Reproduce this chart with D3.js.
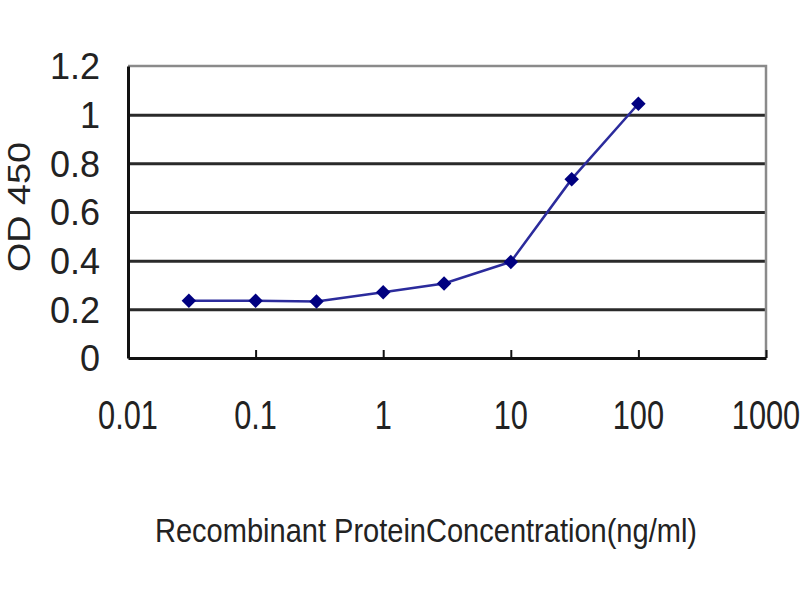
<!DOCTYPE html>
<html>
<head>
<meta charset="utf-8">
<script src="https://cdn.jsdelivr.net/npm/d3@7"></script>
<style>
  body { margin: 0; background: #fff; }
  svg { display: block; font-family: "Liberation Sans", Arial, sans-serif; }
</style>
</head>
<body>
<svg width="800" height="600"></svg>
<script>
// concentration (ng/ml) and OD 450 readings
var conc = [0.03, 0.1, 0.3, 1, 3, 10, 30, 100];
var od = [0.235, 0.235, 0.232, 0.27, 0.306, 0.395, 0.735, 1.045];
var xTicks = [0.01, 0.1, 1, 10, 100, 1000];
var xTickLabels = ["0.01", "0.1", "1", "10", "100", "1000"];
var yTicks = [0, 0.2, 0.4, 0.6, 0.8, 1, 1.2];
var yTickLabels = ["0", "0.2", "0.4", "0.6", "0.8", "1", "1.2"];

var svg = d3.select("svg"),
    margin = {top: 66, right: 34, bottom: 242, left: 128},
    width = +svg.attr("width") - margin.left - margin.right,
    height = +svg.attr("height") - margin.top - margin.bottom,
    g = svg.append("g").attr("transform", "translate(" + margin.left + "," + margin.top + ")");

var x = d3.scaleLog()
    .domain([0.01, 1000])
    .range([0, width]);

var y = d3.scaleLinear()
    .domain([0, 1.2])
    .range([height, 0]);

// horizontal gridlines
g.append("g")
    .attr("class", "grid")
    .call(d3.axisLeft(y)
        .tickValues(yTicks.filter(function(d) { return d > 0 && d < 1.2; }))
        .tickSize(-width)
        .tickFormat(""))
  .call(function(s) {
    s.select(".domain").remove();
    s.selectAll("line").attr("stroke", "#2a2a2a").attr("stroke-width", 3);
  });

// plot border (top / right in grey)
g.append("path")
    .attr("d", "M0,0H" + width + "V" + height)
    .attr("fill", "none")
    .attr("stroke", "#8a8a8a")
    .attr("stroke-width", 2.5);

// y axis
var yAxis = g.append("g")
    .call(d3.axisLeft(y)
        .tickValues(yTicks)
        .tickSize(0)
        .tickPadding(28)
        .tickFormat(function(d, i) { return yTickLabels[i]; }));
yAxis.select(".domain").attr("stroke", "#111").attr("stroke-width", 3);
yAxis.selectAll("text")
    .attr("font-size", 36)
    .attr("font-family", "Liberation Sans, Arial, sans-serif")
    .attr("fill", "#222")
    .attr("dy", "0.36em");

// x axis with inside ticks
var xAxis = g.append("g")
    .attr("transform", "translate(0," + height + ")")
    .call(d3.axisTop(x)
        .tickValues(xTicks)
        .tickSize(8)
        .tickSizeOuter(0)
        .tickFormat(""));
xAxis.select(".domain").attr("stroke", "#111").attr("stroke-width", 3);
xAxis.selectAll("line").attr("stroke", "#111").attr("stroke-width", 2);

var xLab = g.append("g")
    .attr("transform", "translate(0," + height + ")");
xLab.selectAll("text")
    .data(xTicks)
  .enter().append("text")
    .attr("transform", function(d) { return "translate(" + x(d) + ",71) scale(0.75,1)"; })
    .attr("text-anchor", "middle")
    .attr("font-size", 41)
    .attr("fill", "#222")
    .text(function(d, i) { return xTickLabels[i]; });

// series line
var line = d3.line()
    .x(function(d, i) { return x(conc[i]); })
    .y(function(d) { return y(d); });

g.append("path")
    .datum(od)
    .attr("d", line)
    .attr("fill", "none")
    .attr("stroke", "#2b2b9c")
    .attr("stroke-width", 2.5);

// diamond markers
g.selectAll(".pt")
    .data(od)
  .enter().append("path")
    .attr("class", "pt")
    .attr("d", d3.symbol().type(d3.symbolSquare).size(105))
    .attr("transform", function(d, i) { return "translate(" + x(conc[i]) + "," + y(d) + ") rotate(45)"; })
    .attr("fill", "#000080");

// axis titles
svg.append("text")
    .attr("transform", "translate(30,207) rotate(-90)")
    .attr("text-anchor", "middle")
    .attr("font-size", 32)
    .attr("fill", "#222")
    .attr("textLength", 130)
    .attr("lengthAdjust", "spacingAndGlyphs")
    .text("OD 450");

svg.append("text")
    .attr("x", 155)
    .attr("y", 542)
    .attr("font-size", 33)
    .attr("fill", "#222")
    .attr("textLength", 542)
    .attr("lengthAdjust", "spacingAndGlyphs")
    .text("Recombinant ProteinConcentration(ng/ml)");
</script>
</body>
</html>
